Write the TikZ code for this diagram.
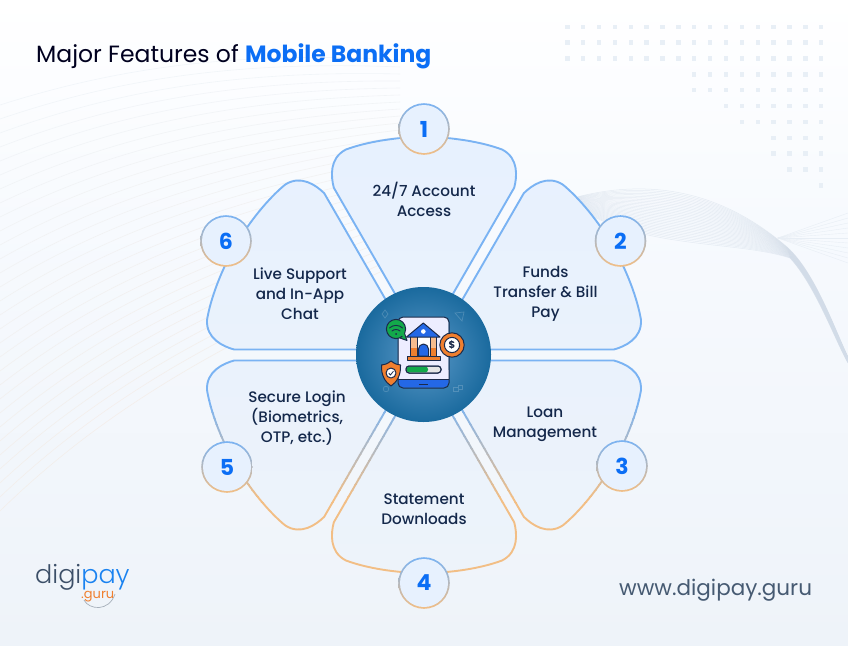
\documentclass[tikz,border=0pt]{standalone}
\usepackage{fontspec}
\setmainfont{Poppins}
\newfontfamily\popmed{Poppins Medium}
\newfontfamily\poplight{Poppins Light}
\usetikzlibrary{calc}
\definecolor{petalblue}{HTML}{7AB3F3}
\definecolor{petalgrey}{HTML}{B6BABF}
\definecolor{petalorange}{HTML}{F2BE85}
\definecolor{inkblue}{HTML}{14284B}
\definecolor{brightblue}{HTML}{0B6EF5}
\definecolor{icondark}{HTML}{1B2A4A}
\definecolor{iconblue}{HTML}{2468E6}
\definecolor{iconorange}{HTML}{F07F2E}
\definecolor{iconpeach}{HTML}{F6BC8E}
\definecolor{icongreen}{HTML}{12A94A}
\definecolor{slatetext}{HTML}{465A72}
\definecolor{logoslate}{HTML}{3C4F68}
\definecolor{logoblue}{HTML}{1A82F0}
\definecolor{swooshc}{HTML}{D2DCE8}
\definecolor{fanc}{HTML}{E8EEF5}
\definecolor{dotc}{HTML}{E8EFF6}
\definecolor{wavetop}{HTML}{EEF3F8}
\definecolor{wavelow}{HTML}{F3ECE6}
\def\petalpath{(-15.24,-37.4) -- (-90.2,-167.3) .. controls (-93,-178) and (-95,-197) .. (-78,-205.5) .. controls (-58,-213) and (-28,-218) .. (0,-218) .. controls (28,-218) and (58,-213) .. (78,-205.5) .. controls (95,-197) and (93,-178) .. (90.2,-167.3) -- (15.24,-37.4) -- cycle}
\tikzset{
  labeltext/.style={font=\popmed\fontsize{15.2}{20}\selectfont,text=inkblue,align=center,inner sep=0pt},
  numtext/.style={font=\bfseries\fontsize{22}{22}\selectfont,text=brightblue,inner sep=0pt},
  petalline/.style={line width=1.9pt,line join=round},
  iconline/.style={draw=icondark,line width=1pt,line join=round},
  waveline/.style={line width=.6pt},
}
\begin{document}
\begin{tikzpicture}[x=1pt,y=-1pt]
\useasboundingbox (0,0) rectangle (848,645);
% background
\definecolor{bgmid}{HTML}{F7FAFE}
\definecolor{bglow}{HTML}{EEF3F9}
\shade[top color=white,bottom color=bgmid] (0,0) rectangle (848,220);
\shade[top color=bgmid,bottom color=bglow] (0,220) rectangle (848,645);
% left wave lines
\foreach \i in {0,...,29}{
  \pgfmathsetmacro{\p}{\i*3.4}
  \draw[waveline,draw=wavelow!\p!wavetop,opacity=.8]
    (0,{105+14*\i}) .. controls (110,{70+11.5*\i}) and (230,{50+10*\i}) .. (400,{60+7*\i});
}
% right swoosh
\foreach \i in {0,...,30}{
  \pgfmathsetmacro{\a}{\i/30}
  \draw[line width=.5pt,draw=swooshc,opacity=.5]
    (573,{198+7*\a}) .. controls ({640},{180+70*\a}) and ({715+20*\a},{185+55*\a}) .. ({787+3*\a},{247+11*\a})
    .. controls (815,{272+13*\a}) and (835,{330+10*\a}) .. (848,{357+6*\a});
}
\foreach \i in {0,...,10}{
  \draw[line width=.4pt,draw=fanc] (778,238) -- (848,{213+5*\i});
}
% dots
\foreach \r/\k in {0/0,1/0,2/0,3/8,4/8,5/10,6/11,7/13,8/13,9/14,10/16}{
  \foreach \c in {\k,...,16}{
    \fill[dotc] ({567.3+15.87*\c-2.2},{26.7+15.87*\r-2.2}) rectangle ++(4.4,4.4);
  }
}
% petals
\definecolor{petaltop}{HTML}{E7F1FE}
\definecolor{petalmid}{HTML}{E4F0FD}
\definecolor{petalbot}{HTML}{EDF3FA}
\foreach \a in {0,-60,-120,-180,-240,-300}{
  \begin{scope}
    \clip[shift={(424,355)},rotate=\a] \petalpath;
    \shade[top color=petaltop,middle color=petalmid,bottom color=petalbot] (0,140) rectangle (848,580);
  \end{scope}
}
\foreach \a in {0,-60,-300}{
  \draw[petalline,draw=petalblue,shift={(424,355)},rotate=\a] \petalpath;
}
\foreach \a in {-120,-180,-240}{
  \begin{scope}
    \clip (0,300) rectangle (848,400.3);
    \draw[petalline,draw=petalblue,shift={(424,355)},rotate=\a] \petalpath;
  \end{scope}
  \foreach \b in {0,...,16}{
    \pgfmathsetmacro{\yy}{400+6*\b}
    \pgfmathsetmacro{\gmix}{\b<8 ? 100*\b/8 : 100}
    \pgfmathsetmacro{\omix}{\b<8 ? 0 : 100*(\b-8)/8}
    \colorlet{bandc}{petalgrey!\gmix!petalblue}
    \ifdim\b pt>7pt \colorlet{bandc}{petalorange!\omix!petalgrey}\fi
    \begin{scope}
      \clip (0,\yy) rectangle (848,\yy+6.3);
      \draw[petalline,draw=bandc,shift={(424,355)},rotate=\a] \petalpath;
    \end{scope}
  }
  \begin{scope}
    \clip (0,502) rectangle (848,645);
    \draw[petalline,draw=petalorange,shift={(424,355)},rotate=\a] \petalpath;
  \end{scope}
}
% badges
\foreach \nm/\x/\y/\t in {b1/424/129/1,b2/620.5/241/2,b3/622/466/3,b4/424/583/4,b5/227/467/5,b6/226/241/6}{
  \shade[top color=petalblue,middle color=petalgrey,bottom color=petalorange] (\x,\y) circle (25.8);
  \fill[petaltop] (\x,\y) circle (24);
  \node[numtext] (\nm) at (\x,\y) {\t};
}
% labels
\node[labeltext] (l1) at (424,199) {24/7 Account\\Access};
\node[labeltext] (l2) at (545.5,294) {Funds\\Transfer \& Bill\\Pay};
\node[labeltext] (l3) at (545,424) {Loan\\Management};
\node[labeltext] (l4) at (424,509) {Statement\\Downloads};
\node[labeltext] (l5) at (297,418) {Secure Login\\(Biometrics,\\OTP, etc.)};
\node[labeltext] (l6) at (300,294) {Live Support\\and In-App\\Chat};
% central disc
\definecolor{discout}{HTML}{1A6A9E}
\definecolor{discin}{HTML}{5B99C8}
\shade[inner color=discin,outer color=discout] (423.5,354.5) circle (67.5);
% faint marks on disc
\draw[white,opacity=.18,line width=.7pt] (385,310) -- (388,314) -- (385,318) -- (382,314) -- cycle;
\draw[white,opacity=.18,line width=.7pt] (455,313) -- (464,312) -- (462,321) -- cycle;
\draw[white,opacity=.18,line width=.7pt] (386,389) circle (2.8);
\draw[white,opacity=.18,line width=.7pt] (453,387) rectangle ++(5,4) (458,385) rectangle ++(4,4);
% phone
\fill[white!93!blue!100!black,rounded corners=5pt] (398.4,317) rectangle (448.6,384);
\fill[iconblue,rounded corners=5pt] (398.4,375) rectangle (448.6,387.6);
\fill[white!93!blue!100!black] (398.4,370) rectangle (448.6,379);
\draw[iconline,rounded corners=5pt] (398,317) rectangle (449,388);
\draw[icondark,line width=.8pt] (398,379) -- (449,379);
\draw[icondark,line width=.9pt] (419,384) -- (428,384);
% bank
\fill[iconpeach] (410,337) rectangle (417,348) (430,337) rectangle (436,348);
\fill[white] (417,337) rectangle (430,356);
\fill[iconorange] (410,348) rectangle (417,356) (430,348) rectangle (436,356);
\draw[iconline] (410,337) -- (410,356) (417,337) -- (417,356) (430,337) -- (430,356) (436,337) -- (436,356);
\draw[iconline,fill=iconblue] (418.5,356) -- (418.5,349) arc[start angle=180,end angle=360,radius=5] -- (428.5,356) -- cycle;
\draw[iconline,fill=iconblue] (423.3,323) -- (440,337) -- (406.5,337) -- cycle;
\fill[white] (423.3,331.5) circle (2.3);
\draw[iconline,fill=iconorange] (407,356) rectangle (440,360);
% progress bar
\draw[iconline,fill=white!90!black,rounded corners=3pt] (406,366) rectangle (441,373);
\fill[icongreen,rounded corners=2.6pt] (406.6,366.6) rectangle (428,372.4);
\draw[iconline,rounded corners=3pt] (406,366) rectangle (441,373);
% coin
\draw[iconline,fill=iconorange] (452,345) circle (12.2);
\draw[iconline,fill=white] (452,345) circle (7.6);
\node[inner sep=0pt,font=\bfseries\fontsize{10}{10}\selectfont,text=icondark] (coin) at (452,345) {\$};
% wifi bubble
\draw[iconline,fill=icongreen] (400,338) -- (407,340.5) -- (404,332) -- cycle;
\draw[iconline,fill=icongreen] (396,329) circle (9.6);
\fill[icongreen] (401,335) -- (404.5,338) -- (404,331) -- cycle;
\draw[icondark,line width=.9pt,line cap=round] (389.5,328) .. controls (393,324.5) and (399,324.5) .. (402.5,328);
\draw[icondark,line width=.9pt,line cap=round] (392,331) .. controls (394,329) and (398,329) .. (400,331);
\fill[icondark] (396,334) circle (1);
% shield
\draw[iconline,fill=iconorange] (391,361) .. controls (395,364) and (398,365) .. (400.5,365) .. controls (401,375) and (397,382) .. (391,386) .. controls (385,382) and (381,375) .. (381.5,365) .. controls (384,365) and (387,364) .. (391,361) -- cycle;
\draw[iconline,fill=white] (391,373) circle (5);
\draw[icondark,line width=.8pt,line cap=round] (388.8,373.2) -- (390.4,375) -- (393.4,371.3);
% title
\node[anchor=base west,inner sep=0pt,font=\fontsize{23.5}{24}\selectfont,text=black!88!blue] (title) at (36,62) {Major Features of \textcolor{brightblue}{\bfseries Mobile Banking}};
% logo
\node[anchor=base west,inner sep=0pt,font=\poplight\fontsize{25.5}{26}\selectfont,text=logoslate] (logo) at (35,583) {digi\textcolor{logoblue}{pay}};
\node[anchor=base west,inner sep=0pt,font=\fontsize{13}{13}\selectfont,text=iconorange] (guru) at (81,598) {.guru};
\draw[logoslate!45!white,line width=.7pt] (84,600) .. controls (89,610) and (109,612) .. (115,594);
% website
\node[anchor=base west,inner sep=0pt,font=\fontsize{21.5}{22}\selectfont,text=slatetext] (web) at (619,595) {www.digipay.guru};
\end{tikzpicture}
\end{document}
